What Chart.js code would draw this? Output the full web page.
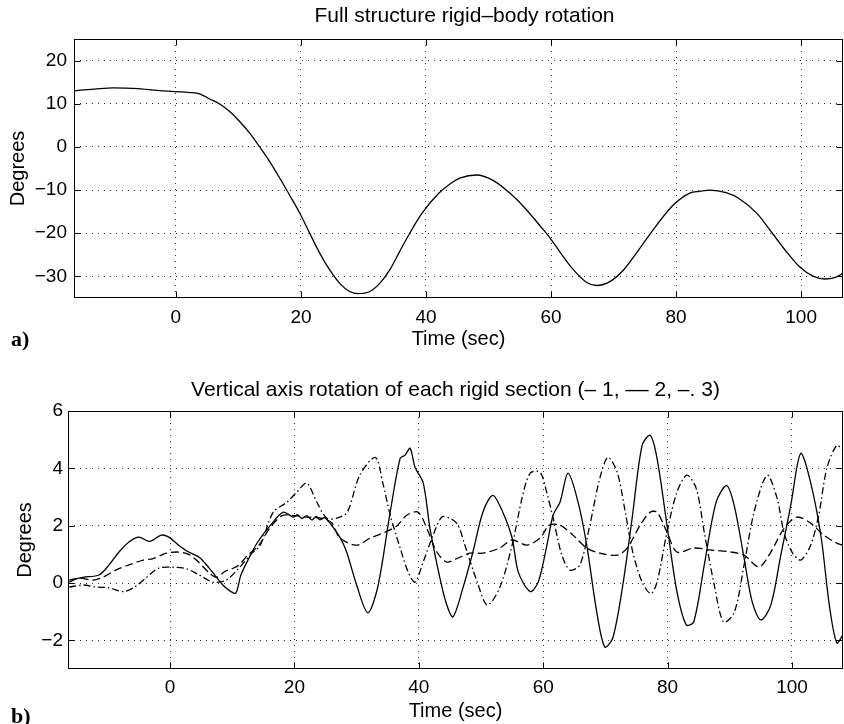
<!DOCTYPE html>
<html><head><meta charset="utf-8">
<script src="https://cdn.jsdelivr.net/npm/chart.js@4/dist/chart.umd.min.js"></script>
<style>
html,body{margin:0;padding:0;background:#fff;}
#wrap{position:relative;width:844px;height:724px;overflow:hidden;background:#fff;}
canvas{position:absolute;left:0;}
</style></head><body>
<div id="wrap">
<canvas id="ca" width="844" height="362" style="top:0"></canvas>
<canvas id="cb" width="844" height="362" style="top:362px"></canvas>
</div>
<script>
// ---------- Panel a) data ----------
const timeA = [-16.3,-13,-10,-6,-3,0,2.2,3.8,5.4,7.0,8.6,10.2,11.8,13.4,15.0,16.6,18.2,19.8,21.4,23.0,24.6,26.2,27.8,29.1,31.0,32.6,34.2,35.8,37.4,39.4,42,44,45.4,48.1,50.8,53.4,56.1,58.2,59.8,61.4,63.6,65.7,67.3,69.4,71.6,74.2,76.9,79.6,82.2,83.8,85.4,88,90,93,95.4,97.5,99.7,102,103.8,105.5,106.7];
const rotationA = [13.0,13.4,13.7,13.5,13.1,12.8,12.6,12.3,11.1,9.95,8.2,5.9,3.2,0.0,-3.4,-7.2,-11.2,-15.3,-20,-24.6,-28.5,-31.6,-33.5,-34,-33.5,-31.6,-28.5,-24.2,-20,-15.3,-10.8,-8.4,-7.25,-6.5,-7.8,-10.7,-14.6,-18.2,-21.0,-24.3,-28.5,-31.4,-32.1,-31.2,-28.5,-23.5,-18.1,-13.4,-10.7,-10.3,-10,-10.6,-11.9,-15.5,-20,-24,-27.7,-30,-30.6,-30.2,-29.3];
const xTicksA = [0,20,40,60,80,100];
const xTickLabelsA = ['0','20','40','60','80','100'];
const yTicksA = [-30,-20,-10,0,10,20];
const yTickLabelsA = ['\u221230','\u221220','\u221210','0','10','20'];

// ---------- Panel b) data ----------
const timeB1 = [-16.2,-14,-11.4,-9.8,-8.2,-6.6,-5,-3.3,-1.4,-0.2,1.4,3.0,4.7,6.3,8.5,9.8,10.6,11.4,12.7,14.1,16.1,18.2,19.8,20.5,21.2,22,22.8,23.5,24.1,24.8,25.7,27.3,28.4,30,31.8,33.4,35.4,37,37.8,38.6,39.4,40.7,41.8,43.4,44.5,45.5,47.1,48.7,50.3,51.9,53.5,55,56,57.9,59.2,60.6,61.6,62.7,64,65.6,67,68.6,69.9,71.2,72.8,74.3,75.9,77.2,78.3,79.9,81.5,83,84.2,85.9,87.8,89.5,90.7,92.3,93.6,95,96.6,98.2,99.8,101.4,103,104.7,106,107.2,108.2];
const section1 = [0.1,0.2,0.28,0.63,1.08,1.43,1.6,1.45,1.67,1.6,1.32,1.08,0.9,0.52,-0.07,-0.3,-0.35,0.28,0.87,1.43,2.0,2.47,2.3,2.38,2.25,2.35,2.2,2.32,2.2,2.28,2.09,1.6,1.08,-0.07,-1.04,-0.14,2.47,4.35,4.46,4.7,4.03,3.5,1.9,0.17,-0.77,-1.18,-0.17,1.08,2.47,3.06,2.47,1.57,0.38,-0.3,0.03,1.32,2.37,2.82,3.83,2.82,1.32,-1.0,-2.23,-1.91,-0.07,2.26,4.8,5.15,4.35,2.02,-0.3,-1.46,-1.36,0.63,2.82,3.4,2.71,0.87,-0.66,-1.29,-0.77,0.97,2.71,4.52,3.5,1.57,-0.77,-2.09,-1.81];
const timeB2 = [-16.2,-14.6,-12.4,-10.8,-8.7,-6.6,-4.3,-2.7,-0.6,1.4,3.0,4.5,6.3,7.5,8.8,10,11.1,12.5,14.3,16,18,20,22,24.5,26,27.3,30,32.2,34.2,36.5,38.1,39.9,41.3,42.9,44.5,46.1,48.2,50.3,53,55,57.4,59.5,61,62.7,64.8,67,69.1,71.9,73.5,75.6,77.2,78.3,79.9,81.5,84.2,87,90.2,92.3,94.7,96.6,98.7,100.8,103,105.1,107.2,108.2];
const section2 = [0.03,0.17,0.1,0.2,0.45,0.63,0.8,0.85,1.04,1.08,1.0,0.75,0.35,0.2,0.4,0.5,0.63,0.97,1.32,1.9,2.35,2.35,2.3,2.25,2.1,1.57,1.32,1.57,1.74,2.0,2.37,2.47,1.9,1.08,0.73,0.85,1.04,1.04,1.22,1.5,1.32,1.57,2.02,2.02,1.67,1.22,1.04,0.97,1.22,2.02,2.47,2.47,1.77,1.08,1.22,1.15,1.08,0.97,0.56,1.08,1.9,2.3,2.09,1.67,1.39,1.32];
const timeB3 = [-16.2,-14,-11.9,-9.8,-7.6,-5.9,-3.9,-1.8,0.5,2.6,4.7,6.9,9,11,13,14.5,16.6,18.8,20.4,22,23.6,25.2,26.8,28.5,30.5,33,34.2,35.4,37,38.3,39.4,40.7,42.3,43.7,45,46.3,47.4,49.4,51,53,55,56.6,57.9,59.5,60.6,61.6,63,64.3,65.9,67.5,69.1,70.4,71.9,73.2,74.4,75.9,77.3,78.3,79.9,81.5,83.1,84.6,85.9,87.5,89,90.7,92.3,93.9,96,97.6,98.7,100,101.4,103,104.3,105.6,107.2,108.2];
const section3 = [-0.14,-0.07,-0.14,-0.17,-0.3,-0.17,0.17,0.52,0.55,0.5,0.28,0.03,0.1,0.5,1.0,1.32,2.47,2.82,3.17,3.48,2.82,2.26,2.26,2.47,3.76,4.38,3.5,2.37,1.22,0.38,0.03,0.73,1.67,2.3,2.26,2.02,1.32,0.03,-0.77,-0.17,1.32,2.96,3.83,3.86,3.13,2.26,0.97,0.45,0.63,2.02,3.65,4.38,3.86,2.47,1.08,0.03,-0.37,0.03,1.77,3.17,3.76,3.3,1.77,-0.07,-1.36,-1.04,0.63,2.47,3.76,2.96,1.77,1.08,0.8,1.32,2.37,4.0,4.8,4.63];
const xTicksB = [0,20,40,60,80,100];
const xTickLabelsB = ['0','20','40','60','80','100'];
const yTicksB = [-2,0,2,4,6];
const yTickLabelsB = ['\u22122','0','2','4','6'];

const FONT = '"Liberation Sans", Arial, Helvetica, sans-serif';

const framePlugin = {
  id: 'frame',
  afterDraw(chart, args, o) {
    const {ctx, chartArea: a, scales} = chart;
    ctx.save();
    ctx.strokeStyle = '#000';
    ctx.lineWidth = 1;
    ctx.setLineDash([]);
    const l = Math.round(a.left) + 0.5, t = Math.round(a.top) + 0.5;
    const r = Math.round(a.right) - 0.5, b = Math.round(a.bottom) - 0.5;
    ctx.strokeRect(l, t, r - l, b - t);
    const L = 6;
    ctx.beginPath();
    scales.x.ticks.forEach(tk => {
      const p = Math.round(scales.x.getPixelForValue(tk.value)) + 0.5;
      ctx.moveTo(p, b); ctx.lineTo(p, b - L);
      ctx.moveTo(p, t); ctx.lineTo(p, t + L);
    });
    scales.y.ticks.forEach(tk => {
      const p = Math.round(scales.y.getPixelForValue(tk.value)) + 0.5;
      ctx.moveTo(l, p); ctx.lineTo(l + L, p);
      ctx.moveTo(r, p); ctx.lineTo(r - L, p);
    });
    ctx.stroke();
    ctx.fillStyle = '#000';
    ctx.font = o.titleFont;
    ctx.textAlign = 'center';
    ctx.textBaseline = 'middle';
    ctx.fillText(o.title, (a.left + a.right) / 2 + o.titleDx, o.titleY);
    ctx.font = o.letterFont;
    ctx.textAlign = 'left';
    ctx.fillText(o.letter, o.letterX, o.letterY);
    ctx.restore();
  }
};

function makeOptions(cfg) {
  return {
    responsive: false,
    animation: false,
    devicePixelRatio: 1,
    layout: { padding: { top: cfg.padTop, right: 1, left: 0, bottom: 0 } },
    plugins: {
      legend: { display: false },
      tooltip: { enabled: false },
      frame: {
        title: cfg.title, titleDx: cfg.titleDx, titleY: cfg.titleY,
        titleFont: '21px ' + FONT,
        letter: cfg.letter, letterX: 11, letterY: cfg.letterY,
        letterFont: 'bold 22px "Liberation Serif", "Times New Roman", serif'
      }
    },
    scales: {
      x: {
        type: 'linear', min: cfg.xMin, max: cfg.xMax,
        afterBuildTicks: s => { s.ticks = cfg.xTicks.map(v => ({ value: v })); },
        afterFit: s => { s.height = cfg.xHeight; },
        ticks: {
          color: '#000', font: { family: FONT, size: 19 }, padding: cfg.xTickPad,
          maxRotation: 0, autoSkip: false,
          callback: v => { const i = cfg.xTicks.indexOf(v); return i >= 0 ? cfg.xLabels[i] : ''; }
        },
        grid: { color: '#333', lineWidth: 1, drawTicks: false },
        border: { display: false, dash: [1, 5] },
        title: { display: true, text: 'Time (sec)', color: '#000', font: { family: FONT, size: 20 }, padding: { top: 0, bottom: cfg.xTitlePad } }
      },
      y: {
        type: 'linear', min: cfg.yMin, max: cfg.yMax,
        afterBuildTicks: s => { s.ticks = cfg.yTicks.map(v => ({ value: v })); },
        afterFit: s => { s.width = cfg.yWidth; },
        ticks: {
          color: '#000', font: { family: FONT, size: 19 }, padding: cfg.yTickPad,
          autoSkip: false,
          callback: v => { const i = cfg.yTicks.indexOf(v); return i >= 0 ? cfg.yLabels[i] : ''; }
        },
        grid: { color: '#333', lineWidth: 1, drawTicks: false },
        border: { display: false, dash: [1, 5] },
        title: { display: true, text: 'Degrees', color: '#000', font: { family: FONT, size: 20 }, padding: { top: cfg.yTitlePad, bottom: 0 } }
      }
    }
  };
}

function pts(xs, ys) { return xs.map((x, i) => ({ x: x, y: ys[i] })); }

new Chart(document.getElementById('ca'), {
  type: 'line',
  data: {
    datasets: [{
      data: pts(timeA, rotationA),
      borderColor: '#000', borderWidth: 1.3, pointRadius: 0,
      cubicInterpolationMode: 'monotone', fill: false
    }]
  },
  options: makeOptions({
    padTop: 39, xMin: -16.3, xMax: 106.7, yMin: -35, yMax: 25,
    xTicks: xTicksA, xLabels: xTickLabelsA, yTicks: yTicksA, yLabels: yTickLabelsA,
    xHeight: 64, yWidth: 74, xTickPad: 8, yTickPad: 7, xTitlePad: 11, yTitlePad: 6,
    title: 'Full structure rigid\u2013body rotation', titleDx: 6, titleY: 16,
    letter: 'a)', letterY: 340
  }),
  plugins: [framePlugin]
});

new Chart(document.getElementById('cb'), {
  type: 'line',
  data: {
    datasets: [
      { data: pts(timeB1, section1), borderColor: '#000', borderWidth: 1.3, pointRadius: 0, tension: 0.3, fill: false },
      { data: pts(timeB2, section2), borderColor: '#000', borderWidth: 1.3, pointRadius: 0, tension: 0.3, fill: false, borderDash: [8, 4] },
      { data: pts(timeB3, section3), borderColor: '#000', borderWidth: 1.3, pointRadius: 0, tension: 0.3, fill: false, borderDash: [7, 3, 1.5, 3] }
    ]
  },
  options: makeOptions({
    padTop: 49, xMin: -16.4, xMax: 108.2, yMin: -3, yMax: 6,
    xTicks: xTicksB, xLabels: xTickLabelsB, yTicks: yTicksB, yLabels: yTickLabelsB,
    xHeight: 55, yWidth: 68, xTickPad: 7, yTickPad: 5, xTitlePad: 1, yTitlePad: 13,
    title: 'Vertical axis rotation of each rigid section (\u2013 1, \u2013\u2013 2, \u2013. 3)', titleDx: 0, titleY: 28,
    letter: 'b)', letterY: 355
  }),
  plugins: [framePlugin]
});
</script>
</body></html>
